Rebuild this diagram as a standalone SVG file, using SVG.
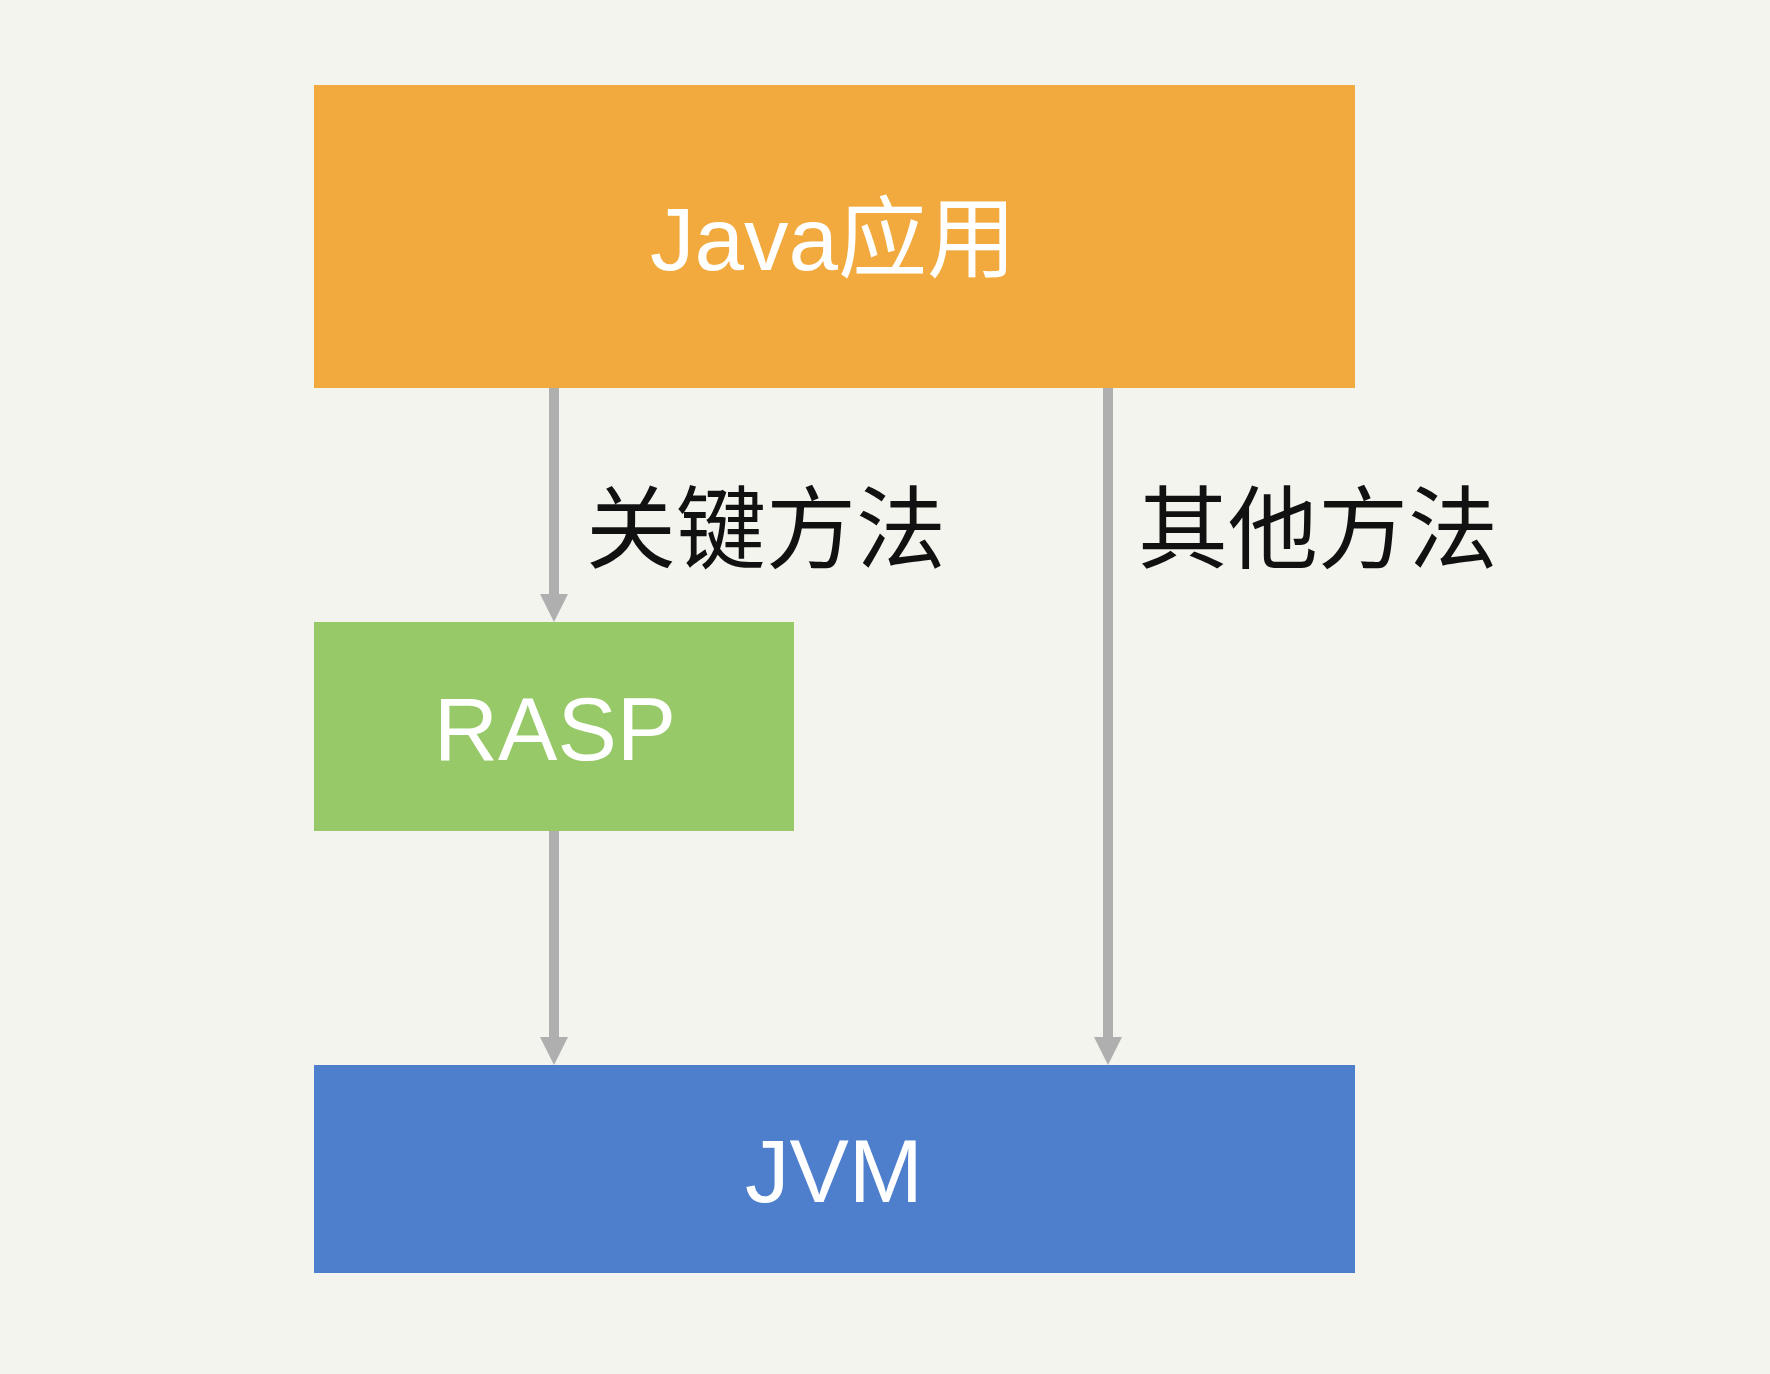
<svg xmlns="http://www.w3.org/2000/svg" width="1770" height="1374" viewBox="0 0 1770 1374">
  <style>
    .box-text { font-family: "Liberation Sans", "Noto Sans CJK SC", sans-serif; font-size: 89px; fill: #ffffff; text-anchor: middle; }
    .label { font-family: "Noto Sans CJK SC", "Liberation Sans", sans-serif; font-size: 90px; fill: #111111; }
    .conn { stroke: #AFAFAF; stroke-width: 10; fill: none; marker-end: url(#arrow); }
  </style>
  <defs>
    <marker id="arrow" markerUnits="userSpaceOnUse" viewBox="0 0 28 28" refX="0" refY="14" markerWidth="28" markerHeight="29" orient="auto">
      <path d="M0,0 L28,14 L0,28 Z" fill="#AFAFAF"/>
    </marker>
  </defs>
  <rect x="0" y="0" width="1770" height="1374" fill="#F3F4EE"/>

  <g id="java-app">
    <rect x="314" y="85" width="1041" height="303" fill="#F2AA3E"/>
    <text class="box-text" x="833" y="270">Java应用</text>
  </g>
  <g id="rasp">
    <rect x="314" y="622" width="480" height="209" fill="#97C968"/>
    <text class="box-text" x="555" y="760">RASP</text>
  </g>
  <g id="jvm">
    <rect x="314" y="1065" width="1041" height="208" fill="#4E7FCD"/>
    <text class="box-text" x="834" y="1202">JVM</text>
  </g>

  <g id="connectors">
    <line class="conn" x1="554" y1="388" x2="554" y2="594"/>
    <line class="conn" x1="554" y1="831" x2="554" y2="1037"/>
    <line class="conn" x1="1108" y1="388" x2="1108" y2="1037"/>
    <text class="label" x="586" y="561">关键方法</text>
    <text class="label" x="1138" y="561">其他方法</text>
  </g>
</svg>
